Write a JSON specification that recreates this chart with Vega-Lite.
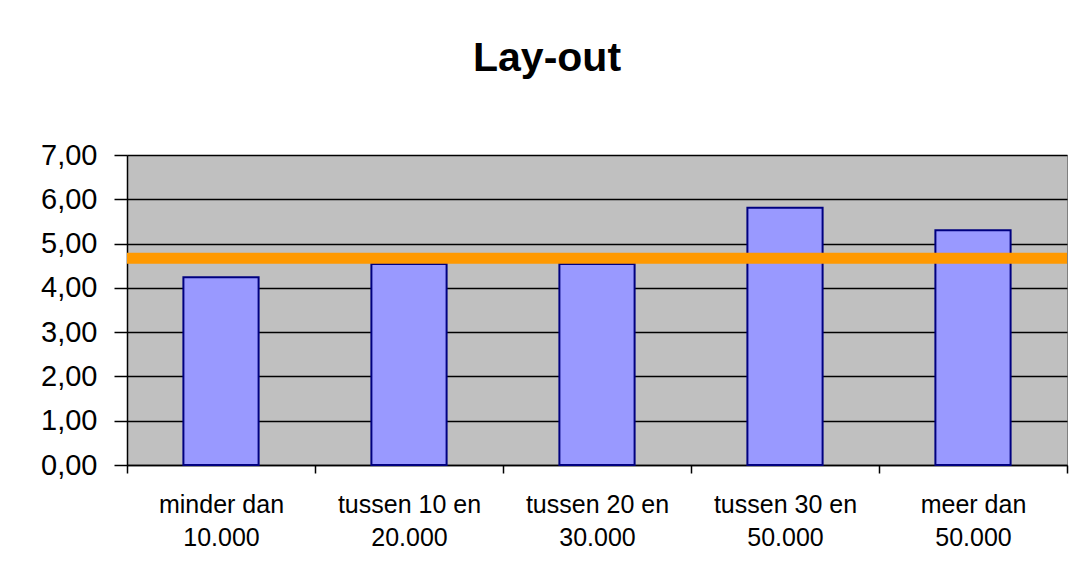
{
  "$schema": "https://vega.github.io/schema/vega-lite/v6.json",
  "width": 940,
  "height": 310,
  "autosize": {"type": "none"},
  "padding": {"left": 127, "top": 155, "right": 8, "bottom": 97},
  "background": "#FFFFFF",
  "title": {
    "text": "Lay-out",
    "font": "Liberation Sans",
    "fontSize": 41,
    "fontWeight": "bold",
    "color": "#000000",
    "anchor": "middle",
    "frame": "group",
    "dx": -50,
    "baseline": "alphabetic",
    "offset": 29
  },
  "config": {
    "view": {"fill": "#C0C0C0", "stroke": "#808080", "strokeWidth": 1},
    "axis": {
      "labelFont": "Liberation Sans",
      "labelColor": "#000000",
      "domainColor": "#000000",
      "tickColor": "#000000",
      "domainWidth": 1.5,
      "tickWidth": 1.5
    }
  },
  "layer": [
    {
      "data": {
        "values": [
          {"categorie": "minder dan 10.000", "score": 4.24},
          {"categorie": "tussen 10 en 20.000", "score": 4.54},
          {"categorie": "tussen 20 en 30.000", "score": 4.54},
          {"categorie": "tussen 30 en 50.000", "score": 5.81},
          {"categorie": "meer dan 50.000", "score": 5.30}
        ]
      },
      "mark": {"type": "bar", "fill": "#9999FF", "stroke": "#000080", "strokeWidth": 2, "width": {"band": 0.4}},
      "encoding": {
        "x": {
          "field": "categorie",
          "type": "nominal",
          "sort": null,
          "scale": {"paddingInner": 0, "paddingOuter": 0},
          "axis": {
            "title": null,
            "labelAngle": 0,
            "labelFontSize": 25,
            "labelLineHeight": 33,
            "labelPadding": 19,
            "tickSize": 8,
            "tickBand": "extent",
            "labelExpr": "[slice(datum.label, 0, lastindexof(datum.label, ' ')), slice(datum.label, lastindexof(datum.label, ' ') + 1)]"
          }
        },
        "y": {
          "field": "score",
          "type": "quantitative",
          "scale": {"domain": [0, 7], "nice": false},
          "axis": {
            "title": null,
            "values": [0, 1, 2, 3, 4, 5, 6, 7],
            "labelFontSize": 29,
            "labelPadding": 17,
            "tickSize": 13,
            "grid": true,
            "gridColor": "#000000",
            "gridWidth": 1.5,
            "labelExpr": "replace(format(datum.value, '.2f'), '.', ',')"
          }
        }
      }
    },
    {
      "data": {"values": [{"gemiddelde": 4.67}]},
      "mark": {"type": "rule", "stroke": "#FF9900", "strokeWidth": 11},
      "encoding": {
        "y": {"field": "gemiddelde", "type": "quantitative"}
      }
    }
  ]
}
